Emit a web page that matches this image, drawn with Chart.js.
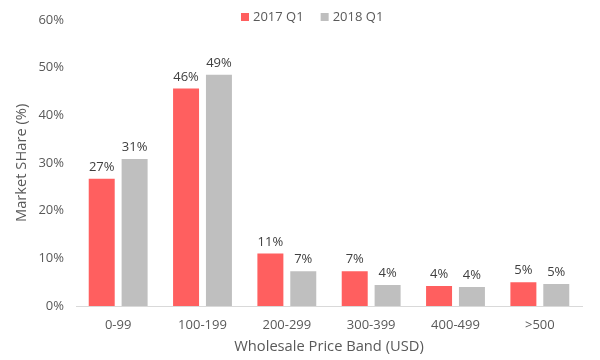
<!DOCTYPE html>
<html>
<head>
<meta charset="utf-8">
<script src="https://cdn.jsdelivr.net/npm/chart.js@4"></script>
<style>
html,body{margin:0;padding:0;background:#fff;}
#wrap{width:600px;height:360px;position:relative;}
</style>
</head>
<body>
<div id="wrap"><canvas id="c" width="600" height="360"></canvas></div>
<script>
const categories = ["0-99", "100-199", "200-299", "300-399", "400-499", ">500"];
const seriesNames = ["2017 Q1", "2018 Q1"];
const values2017 = [26.7, 45.6, 11.0, 7.3, 4.2, 5.0];
const values2018 = [30.8, 48.5, 7.3, 4.4, 4.0, 4.6];
const yTicks = [0, 10, 20, 30, 40, 50, 60];

const FONT = "'Open Sans', sans-serif";
const TXT = "#595959";
const colors = ["#ff5f5f", "#bfbfbf"];

const labelPlugin = {
  id: "labels",
  afterDatasetsDraw(chart) {
    const ctx = chart.ctx;
    ctx.save();
    ctx.font = "13px " + FONT;
    ctx.fillStyle = "#404040";
    ctx.textAlign = "center";
    ctx.textBaseline = "bottom";
    chart.data.datasets.forEach((ds, i) => {
      const meta = chart.getDatasetMeta(i);
      meta.data.forEach((bar, j) => {
        ctx.fillText(Math.round(ds.data[j]) + "%", bar.x, bar.y - 5);
      });
    });
    // legend
    ctx.textAlign = "left";
    ctx.textBaseline = "middle";
    ctx.font = "13px " + FONT;
    let x = 241;
    const y = 17;
    chart.data.datasets.forEach((ds, i) => {
      ctx.fillStyle = ds.backgroundColor;
      ctx.fillRect(x, y - 4, 8, 8);
      ctx.fillStyle = TXT;
      ctx.fillText(ds.label, x + 12, y);
      x += 12 + ctx.measureText(ds.label).width + 17;
    });
    ctx.restore();
  }
};

new Chart(document.getElementById("c"), {
  type: "bar",
  data: {
    labels: categories,
    datasets: [
      { label: seriesNames[0], data: values2017, backgroundColor: colors[0] },
      { label: seriesNames[1], data: values2018, backgroundColor: colors[1] }
    ]
  },
  options: {
    responsive: false,
    animation: false,
    layout: { padding: { top: 18, right: 18, left: 0, bottom: 0 } },
    datasets: { bar: { categoryPercentage: 0.78, barPercentage: 0.79 } },
    plugins: { legend: { display: false }, tooltip: { enabled: false } },
    scales: {
      x: {
        grid: { display: false, drawTicks: false },
        border: { color: "#d9d9d9", width: 1 },
        ticks: { color: TXT, font: { family: FONT, size: 13 }, padding: 11 },
        title: { display: true, text: "Wholesale Price Band (USD)", color: TXT,
                 font: { family: FONT, size: 14.7 }, padding: { top: 4, bottom: 4 } },
        afterFit(s) { s.height = 54; }
      },
      y: {
        min: 0, max: 60,
        afterBuildTicks(s) { s.ticks = yTicks.map(v => ({ value: v })); },
        grid: { display: false, drawTicks: false },
        border: { display: false },
        ticks: { color: TXT, font: { family: FONT, size: 13 }, padding: 12,
                 callback: v => v + "%" },
        title: { display: true, text: "Market SHare (%)", color: TXT,
                 font: { family: FONT, size: 14.7 }, padding: { top: 13, bottom: 0 } },
        afterFit(s) { s.width = 76; }
      }
    }
  },
  plugins: [labelPlugin]
});
</script>
</body>
</html>
